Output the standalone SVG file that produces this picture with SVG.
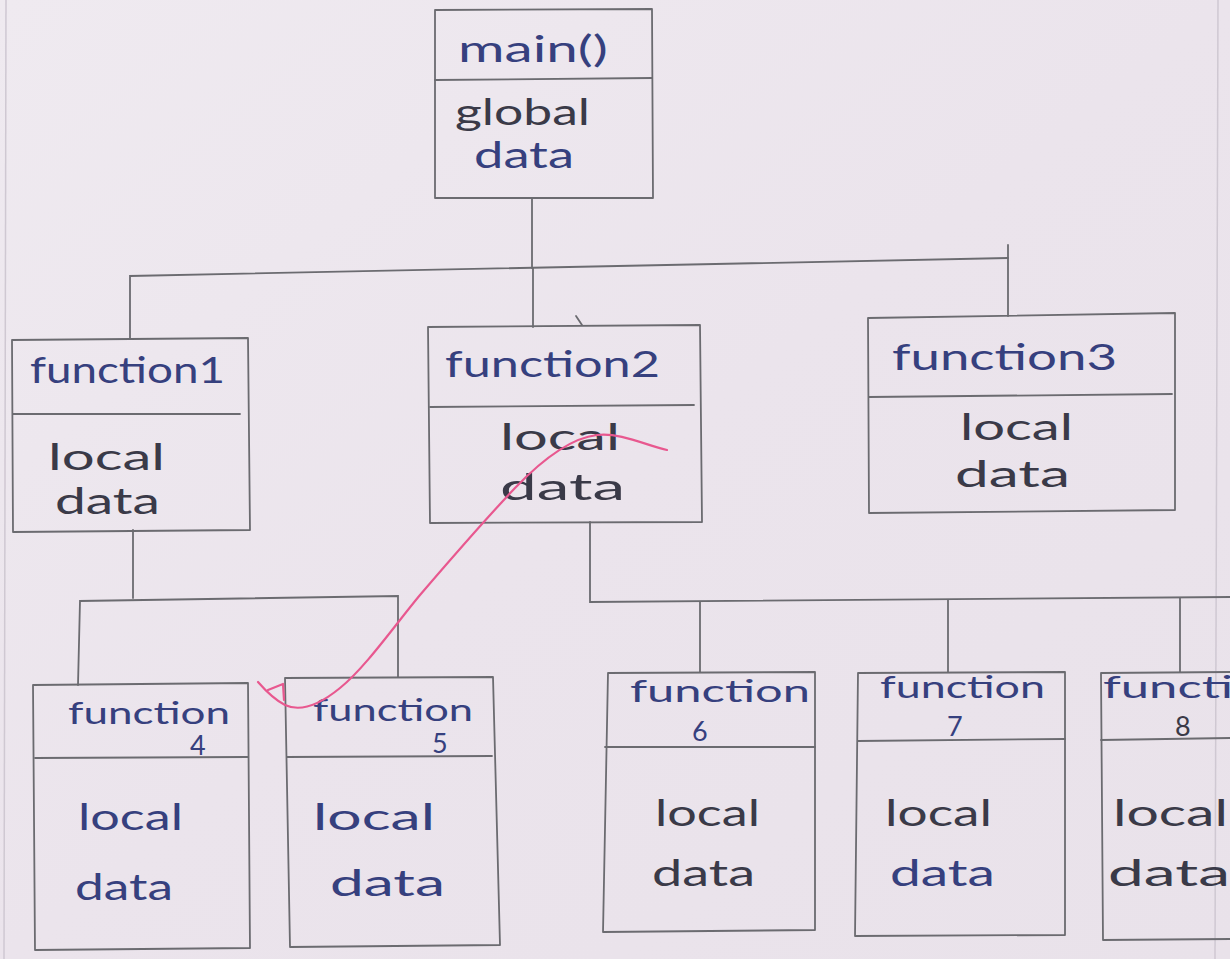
<svg xmlns="http://www.w3.org/2000/svg" width="1230" height="959" viewBox="0 0 1230 959">
<defs>
<linearGradient id="paper" x1="0" y1="0" x2="1" y2="1">
<stop offset="0" stop-color="#efeaf0"/>
<stop offset="0.5" stop-color="#ebe4ec"/>
<stop offset="1" stop-color="#e9e2ea"/>
</linearGradient>
</defs>
<style>
.box{fill:none;stroke:#6b6b70;stroke-width:1.8;stroke-linejoin:round}
.ln{fill:none;stroke:#6b6b70;stroke-width:1.8;stroke-linecap:round}
.t{font-family:"Lato","Liberation Sans",sans-serif;font-size:36px}
.s{font-size:30px}
.n{font-size:27px}
.b{fill:#36407e}
.g{fill:#3a3a48}
.pink{fill:none;stroke:#e8588f;stroke-width:2.2;stroke-linecap:round;stroke-linejoin:round}
.margin{fill:none;stroke:#cfc8d2;stroke-width:1.5}
</style>
<rect x="0" y="0" width="1230" height="959" fill="url(#paper)"/>
<path class="margin" d="M6,0 L4,959"/>
<path class="margin" d="M1218,0 L1215,959"/>

<g id="connectors">
<path class="ln" d="M532,198 L532,268"/>
<path class="ln" d="M130,338 L130,276 L1008,258"/>
<path class="ln" d="M1008,245 L1008,316"/>
<path class="ln" d="M533,268 L533,327"/>
<path class="ln" d="M576,316 L582,325"/>
<path class="ln" d="M133,530 L133,598"/>
<path class="ln" d="M78,685 L80,601 L398,596 L398,677"/>
<path class="ln" d="M590,522 L590,602 L1230,597"/>
<path class="ln" d="M700,602 L700,672"/>
<path class="ln" d="M948,600 L948,672"/>
<path class="ln" d="M1180,598 L1180,672"/>
</g>

<g id="main">
<path class="box" d="M435,10 L652,9 L653,198 L435,198 Z"/>
<path class="ln" d="M435,80 L652,78"/>
<text class="t b" x="458" y="62" textLength="150" lengthAdjust="spacingAndGlyphs">main()</text>
<text class="t g" x="455" y="125" textLength="135" lengthAdjust="spacingAndGlyphs">global</text>
<text class="t b" x="474" y="168" textLength="100" lengthAdjust="spacingAndGlyphs">data</text>
</g>

<g id="function1">
<path class="box" d="M12,340 L248,338 L250,530 L13,532 Z"/>
<path class="ln" d="M13,414 L240,414"/>
<text class="t b" x="30" y="383" textLength="195" lengthAdjust="spacingAndGlyphs">function1</text>
<text class="t g" x="48" y="470" textLength="117" lengthAdjust="spacingAndGlyphs">local</text>
<text class="t g" x="55" y="514" textLength="105" lengthAdjust="spacingAndGlyphs">data</text>
</g>

<g id="function2">
<path class="box" d="M428,327 L700,325 L702,522 L430,523 Z"/>
<path class="ln" d="M430,407 L694,405"/>
<text class="t b" x="445" y="377" textLength="215" lengthAdjust="spacingAndGlyphs">function2</text>
<text class="t g" x="500" y="450" textLength="120" lengthAdjust="spacingAndGlyphs">local</text>
<text class="t g" x="500" y="500" textLength="125" lengthAdjust="spacingAndGlyphs">data</text>
</g>

<g id="function3">
<path class="box" d="M868,318 L1175,313 L1175,510 L869,513 Z"/>
<path class="ln" d="M869,397 L1172,394"/>
<text class="t b" x="892" y="370" textLength="225" lengthAdjust="spacingAndGlyphs">function3</text>
<text class="t g" x="960" y="440" textLength="113" lengthAdjust="spacingAndGlyphs">local</text>
<text class="t g" x="955" y="487" textLength="115" lengthAdjust="spacingAndGlyphs">data</text>
</g>

<g id="function4">
<path class="box" d="M33,685 L248,683 L250,948 L35,950 Z"/>
<path class="ln" d="M35,758 L248,757"/>
<text class="t s b" x="68" y="724" textLength="162" lengthAdjust="spacingAndGlyphs">function</text>
<text class="t n b" x="190" y="755">4</text>
<text class="t b" x="78" y="830" textLength="105" lengthAdjust="spacingAndGlyphs">local</text>
<text class="t b" x="75" y="900" textLength="98" lengthAdjust="spacingAndGlyphs">data</text>
</g>

<g id="function5">
<path class="box" d="M285,678 L493,677 L500,945 L290,947 Z"/>
<path class="ln" d="M287,757 L492,756"/>
<text class="t s b" x="313" y="721" textLength="160" lengthAdjust="spacingAndGlyphs">function</text>
<text class="t n b" x="432" y="753">5</text>
<text class="t b" x="313" y="830" textLength="122" lengthAdjust="spacingAndGlyphs">local</text>
<text class="t b" x="330" y="896" textLength="115" lengthAdjust="spacingAndGlyphs">data</text>
</g>

<g id="function6">
<path class="box" d="M608,673 L815,672 L815,930 L603,932 Z"/>
<path class="ln" d="M605,747 L815,747"/>
<text class="t s b" x="630" y="702" textLength="180" lengthAdjust="spacingAndGlyphs">function</text>
<text class="t n b" x="692" y="741">6</text>
<text class="t g" x="655" y="826" textLength="105" lengthAdjust="spacingAndGlyphs">local</text>
<text class="t g" x="652" y="886" textLength="103" lengthAdjust="spacingAndGlyphs">data</text>
</g>

<g id="function7">
<path class="box" d="M858,673 L1065,672 L1065,935 L855,936 Z"/>
<path class="ln" d="M858,741 L1065,739"/>
<text class="t s b" x="880" y="698" textLength="165" lengthAdjust="spacingAndGlyphs">function</text>
<text class="t n b" x="947" y="736">7</text>
<text class="t g" x="885" y="826" textLength="107" lengthAdjust="spacingAndGlyphs">local</text>
<text class="t b" x="890" y="886" textLength="105" lengthAdjust="spacingAndGlyphs">data</text>
</g>

<g id="function8">
<path class="box" d="M1230,672 L1101,673 L1103,940 L1230,939"/>
<path class="ln" d="M1101,740 L1230,738"/>
<text class="t s b" x="1103" y="698" textLength="130" lengthAdjust="spacingAndGlyphs">functi</text>
<text class="t n g" x="1175" y="736">8</text>
<text class="t g" x="1113" y="826" textLength="115" lengthAdjust="spacingAndGlyphs">local</text>
<text class="t g" x="1108" y="886" textLength="122" lengthAdjust="spacingAndGlyphs">data</text>
</g>

<g id="pink-stroke">
<path class="pink" d="M667,450 C648,446 620,432 597,435 C570,438 540,462 515,488 C480,525 450,560 420,595 C395,625 365,668 340,688 C318,706 300,712 285,705 C275,700 265,690 258,682"/>
<path class="pink" d="M268,690 L283,684 L284,700"/>
</g>
</svg>
